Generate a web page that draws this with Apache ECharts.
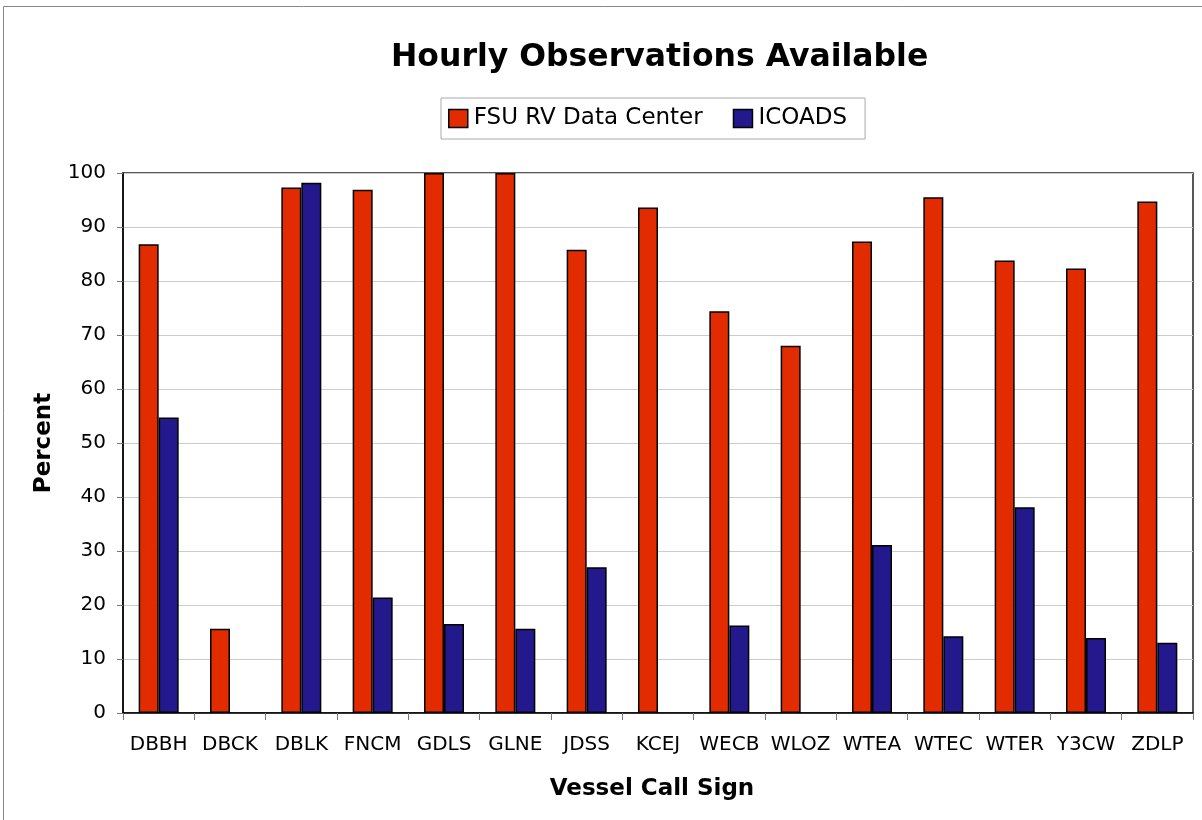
<!DOCTYPE html>
<html><head><meta charset="utf-8">
<script src="https://cdn.jsdelivr.net/npm/echarts@6/dist/echarts.min.js"></script>
<style>html,body{margin:0;padding:0;background:#fff}#c{width:1202px;height:820px}</style>
</head><body><div id="c"></div>
<script>
const categories = ['DBBH','DBCK','DBLK','FNCM','GDLS','GLNE','JDSS','KCEJ','WECB','WLOZ','WTEA','WTEC','WTER','Y3CW','ZDLP'];
const fsuValues = [86.8, 15.6, 97.3, 96.9, 100, 100, 85.8, 93.6, 74.4, 68.0, 87.3, 95.5, 83.8, 82.3, 94.7];
const icoadsValues = [54.7, 0, 98.2, 21.4, 16.5, 15.6, 27.0, 0, 16.2, 0, 31.1, 14.2, 38.1, 13.9, 13.0];
const yTicks = [0,10,20,30,40,50,60,70,80,90,100];

const font = 'DejaVu Sans, Verdana, sans-serif';
const hideZero = arr => arr.map(v => v === 0 ? null : v);
const chart = echarts.init(document.getElementById('c'));
chart.setOption({
  animation: false,
  backgroundColor: '#fff',
  title: {
    text: 'Hourly Observations Available',
    left: 386, top: 37,
    textStyle: { fontFamily: font, fontSize: 31.5, fontWeight: 'bold', color: '#000' }
  },
  graphic: [{
    type: 'rect', shape: { x: 3.5, y: 6.5, width: 1300, height: 900 },
    style: { fill: 'none', stroke: '#888', lineWidth: 1 }, silent: true
  }],
  legend: {
    top: 98, left: 441,
    icon: 'rect',
    itemWidth: 19, itemHeight: 18, itemGap: 30,
    padding: [9, 18, 9, 7],
    borderColor: '#aaa', borderWidth: 1,
    textStyle: { fontFamily: font, fontSize: 23, color: '#000', padding: [0,0,0,1] },
    itemStyle: { borderColor: '#000', borderWidth: 1.5 },
    data: ['FSU RV Data Center', 'ICOADS']
  },
  grid: {
    left: 123, right: 9, top: 173, bottom: 107,
    show: true, borderColor: '#222', borderWidth: 1.5, backgroundColor: 'transparent'
  },
  xAxis: {
    type: 'category', data: categories,
    name: 'Vessel Call Sign', nameLocation: 'middle', nameGap: 65,
    nameTextStyle: { fontFamily: font, fontSize: 23, fontWeight: 'bold', color: '#000', padding: [0, 12, 0, 0] },
    axisLine: { lineStyle: { color: '#000', width: 1.5 } },
    axisTick: { show: true, alignWithLabel: false, length: 7, lineStyle: { color: '#777' } },
    axisLabel: { fontFamily: font, fontSize: 20, color: '#000', margin: 22, interval: 0 }
  },
  yAxis: {
    type: 'value', min: 0, max: 100, interval: 10,
    name: 'Percent', nameLocation: 'middle', nameGap: 67,
    nameTextStyle: { fontFamily: font, fontSize: 23, fontWeight: 'bold', color: '#000' },
    axisLine: { show: true, lineStyle: { color: '#000', width: 1.5 } },
    axisTick: { show: true, length: 6, lineStyle: { color: '#777' } },
    axisLabel: { fontFamily: font, fontSize: 20, color: '#000', margin: 17,
      formatter: v => yTicks.includes(v) ? String(v) : '' },
    splitLine: { show: true, lineStyle: { color: '#ccc', width: 1.2 } }
  },
  series: [
    { name: 'FSU RV Data Center', type: 'bar', data: hideZero(fsuValues), barWidth: 20, barGap: '0%',
      itemStyle: { color: '#E22C00', borderColor: '#000', borderWidth: 1.5 } },
    { name: 'ICOADS', type: 'bar', data: hideZero(icoadsValues), barWidth: 20,
      itemStyle: { color: '#23198C', borderColor: '#000', borderWidth: 1.5 } }
  ]
});
</script></body></html>
